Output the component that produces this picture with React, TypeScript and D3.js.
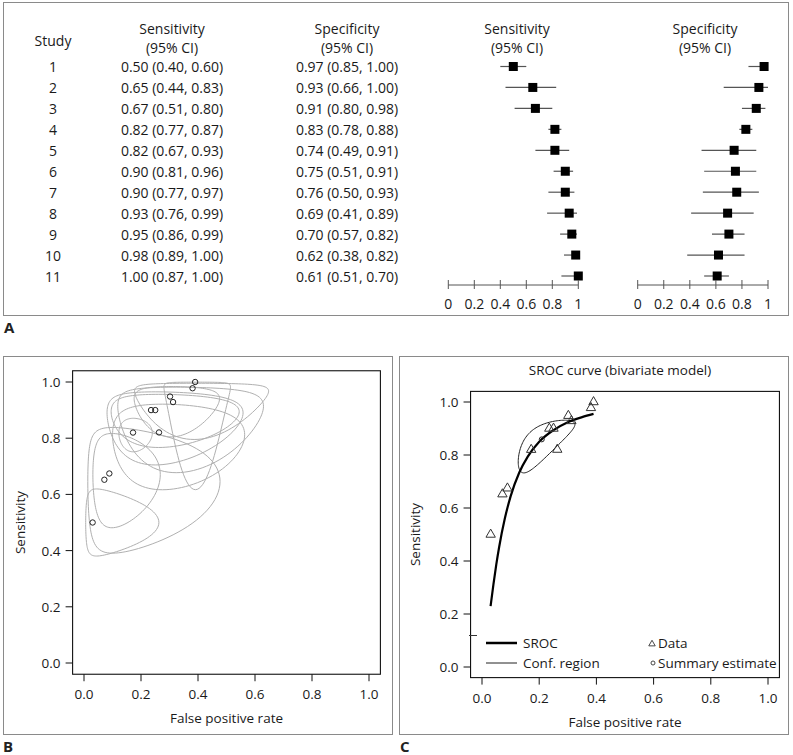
import React, { useEffect } from 'react';
import * as d3 from 'd3';

// ---------- Data (panel A table / forest) ----------
const studies = ['1', '2', '3', '4', '5', '6', '7', '8', '9', '10', '11'];
const sensEst = [0.50, 0.65, 0.67, 0.82, 0.82, 0.90, 0.90, 0.93, 0.95, 0.98, 1.00];
const sensLo = [0.40, 0.44, 0.51, 0.77, 0.67, 0.81, 0.77, 0.76, 0.86, 0.89, 0.87];
const sensHi = [0.60, 0.83, 0.80, 0.87, 0.93, 0.96, 0.97, 0.99, 0.99, 1.00, 1.00];
const specEst = [0.97, 0.93, 0.91, 0.83, 0.74, 0.75, 0.76, 0.69, 0.70, 0.62, 0.61];
const specLo = [0.85, 0.66, 0.80, 0.78, 0.49, 0.51, 0.50, 0.41, 0.57, 0.38, 0.51];
const specHi = [1.00, 1.00, 0.98, 0.88, 0.91, 0.91, 0.93, 0.89, 0.82, 0.82, 0.70];
const forestTicks = [0, 0.2, 0.4, 0.6, 0.8, 1];

// ---------- 2x2 counts consistent with the table (for panel B regions) ----------
const TP = [50, 15, 29, 205, 32, 63, 36, 26, 55, 44, 26];
const FN = [50, 8, 14, 45, 7, 7, 4, 2, 3, 1, 0];
const FP = [1, 1, 4, 43, 5, 5, 4, 5, 16, 8, 39];
const TN = [32, 13, 41, 207, 14, 15, 13, 11, 37, 13, 61];

// ---------- Panel C ----------
const srocFpr = [0.03, 0.04, 0.05, 0.06, 0.08, 0.10, 0.13, 0.16, 0.20, 0.25, 0.30, 0.35, 0.39];
const srocSens = [0.230, 0.312, 0.387, 0.453, 0.561, 0.644, 0.733, 0.794, 0.850, 0.894, 0.924, 0.943, 0.955];
const summaryFpr = 0.209;
const summarySens = 0.859;
// confidence region (logit scale): half-widths and correlation
const confHalfFpr = 0.6;
const confHalfSens = 0.8;
const confRho = 0.72;

const axisTicks = [0, 0.2, 0.4, 0.6, 0.8, 1.0];

const FONT = "'Open Sans', 'DejaVu Sans', sans-serif";
const logit = (p: number) => Math.log(p / (1 - p));
const expit = (x: number) => 1 / (1 + Math.exp(-x));

export default function App() {
  useEffect(() => {
    document.body.style.margin = '0';
  }, []);

  // Panel A scales
  const rowY = d3.scalePoint<string>().domain(studies).range([66.5, 276]);
  const sensX = d3.scaleLinear().domain([0, 1]).range([448.3, 578.3]);
  const specX = d3.scaleLinear().domain([0, 1]).range([637.7, 768]);
  const f2 = d3.format('.2f');
  const tickFmt = d3.format('~g');
  const axisY = 285;
  const sq = 9;

  // Panel B scales
  const xB = d3.scaleLinear().domain([0, 1]).range([84, 369]);
  const yB = d3.scaleLinear().domain([0, 1]).range([663, 382]);
  // Panel C scales
  const xC = d3.scaleLinear().domain([0, 1]).range([482, 768]);
  const yC = d3.scaleLinear().domain([0, 1]).range([667, 402]);
  const f1 = d3.format('.1f');

  const tChi = Math.sqrt(-2 * Math.log(0.05)); // sqrt(qchisq(.95, 2))
  const angles = d3.range(0, 121).map((i) => (i / 120) * 2 * Math.PI);

  const lineB = d3
    .line<[number, number]>()
    .x((d) => xB(d[0]))
    .y((d) => yB(d[1]))
    .curve(d3.curveLinearClosed);

  const ellipsesB = studies.map((_, i) => {
    const tp = TP[i] + 0.5, fn = FN[i] + 0.5, fp = FP[i] + 0.5, tn = TN[i] + 0.5;
    const cx = Math.log(fp / tn);
    const cy = Math.log(tp / fn);
    const sx = Math.sqrt(1 / fp + 1 / tn) * tChi;
    const sy = Math.sqrt(1 / tp + 1 / fn) * tChi;
    const pts: [number, number][] = angles.map((a) => [
      expit(cx + sx * Math.cos(a)),
      expit(cy + sy * Math.sin(a)),
    ]);
    return lineB(pts) as string;
  });

  const ptsFpr = studies.map((_, i) => FP[i] / (FP[i] + TN[i]));
  const ptsSens = studies.map((_, i) => TP[i] / (TP[i] + FN[i]));

  const srocPath = d3
    .line<[number, number]>()
    .x((d) => xC(d[0]))
    .y((d) => yC(d[1]))
    .curve(d3.curveMonotoneX)(srocFpr.map((f, i) => [f, srocSens[i]] as [number, number])) as string;

  const ccx = logit(summaryFpr);
  const ccy = logit(summarySens);
  const confPts: [number, number][] = angles.map((a) => [
    expit(ccx + confHalfFpr * Math.cos(a)),
    expit(ccy + confHalfSens * (confRho * Math.cos(a) + Math.sqrt(1 - confRho * confRho) * Math.sin(a))),
  ]);
  const confPath = d3
    .line<[number, number]>()
    .x((d) => xC(d[0]))
    .y((d) => yC(d[1]))
    .curve(d3.curveLinearClosed)(confPts) as string;

  const triangle = d3.symbol().type(d3.symbolTriangle).size(38)() as string;
  const triangleSmall = d3.symbol().type(d3.symbolTriangle).size(18)() as string;

  const frame = '#8a8a8a';

  const renderAxes = (
    xs: d3.ScaleLinear<number, number>,
    ys: d3.ScaleLinear<number, number>,
    ylabX: number,
  ) => {
    const left = xs(-0.04), right = xs(1.04), top = ys(1.04), bottom = ys(-0.04);
    return (
      <g>
        <rect x={left} y={top} width={right - left} height={bottom - top} fill="none" stroke="#111" strokeWidth={1.1} />
        {axisTicks.map((t) => (
          <g key={'x' + t}>
            <line x1={xs(t)} x2={xs(t)} y1={bottom} y2={bottom + 7} stroke="#111" />
            <text x={xs(t)} y={bottom + 20} textAnchor="middle" dominantBaseline="central" fontSize={13.5}>
              {f1(t)}
            </text>
          </g>
        ))}
        {axisTicks.map((t) => (
          <g key={'y' + t}>
            <line x1={left - 7} x2={left} y1={ys(t)} y2={ys(t)} stroke="#111" />
            <text x={left - 12} y={ys(t)} textAnchor="end" dominantBaseline="central" fontSize={13.5}>
              {f1(t)}
            </text>
          </g>
        ))}
        <text x={(left + right) / 2} y={bottom + 44} textAnchor="middle" dominantBaseline="central" fontSize={13.5}>
          False positive rate
        </text>
        <text
          x={ylabX}
          y={(top + bottom) / 2}
          textAnchor="middle"
          dominantBaseline="central"
          fontSize={13.5}
          transform={`rotate(-90 ${ylabX} ${(top + bottom) / 2})`}
        >
          Sensitivity
        </text>
      </g>
    );
  };

  return (
    <svg
      width={793}
      height={755}
      style={{ position: 'absolute', left: 0, top: 0, background: '#fff' }}
      fontFamily={FONT}
      fill="#1a1a1a"
    >
      <rect x={0} y={0} width={793} height={755} fill="#fff" />
      {/* ---------------- Panel A ---------------- */}
      <rect x={3.5} y={2.5} width={785} height={313} fill="none" stroke={frame} />
      <g fontSize={14}>
        <text x={53} y={40} textAnchor="middle" dominantBaseline="central">Study</text>
        <text x={172} y={28} textAnchor="middle" dominantBaseline="central">Sensitivity</text>
        <text x={172} y={47} textAnchor="middle" dominantBaseline="central">(95% CI)</text>
        <text x={347} y={28} textAnchor="middle" dominantBaseline="central">Specificity</text>
        <text x={347} y={47} textAnchor="middle" dominantBaseline="central">(95% CI)</text>
        <text x={517} y={28} textAnchor="middle" dominantBaseline="central">Sensitivity</text>
        <text x={517} y={47} textAnchor="middle" dominantBaseline="central">(95% CI)</text>
        <text x={705} y={28} textAnchor="middle" dominantBaseline="central">Specificity</text>
        <text x={705} y={47} textAnchor="middle" dominantBaseline="central">(95% CI)</text>
        {studies.map((s, i) => (
          <g key={s}>
            <text x={53} y={rowY(s)} textAnchor="middle" dominantBaseline="central">{s}</text>
            <text x={172} y={rowY(s)} textAnchor="middle" dominantBaseline="central">
              {`${f2(sensEst[i])} (${f2(sensLo[i])}, ${f2(sensHi[i])})`}
            </text>
            <text x={347} y={rowY(s)} textAnchor="middle" dominantBaseline="central">
              {`${f2(specEst[i])} (${f2(specLo[i])}, ${f2(specHi[i])})`}
            </text>
          </g>
        ))}
      </g>
      {/* forest plots */}
      {[
        { sc: sensX, est: sensEst, lo: sensLo, hi: sensHi, k: 's' },
        { sc: specX, est: specEst, lo: specLo, hi: specHi, k: 'p' },
      ].map(({ sc, est, lo, hi, k }) => (
        <g key={k}>
          {studies.map((s, i) => (
            <g key={s}>
              <line x1={sc(lo[i])} x2={sc(hi[i])} y1={rowY(s)} y2={rowY(s)} stroke="#555" strokeWidth={1.2} />
              <rect x={sc(est[i]) - sq / 2} y={(rowY(s) as number) - sq / 2} width={sq} height={sq} fill="#000" />
            </g>
          ))}
          <line x1={sc(0)} x2={sc(1)} y1={axisY} y2={axisY} stroke="#555" />
          {forestTicks.map((t) => (
            <g key={t}>
              <line x1={sc(t)} x2={sc(t)} y1={axisY - 5} y2={axisY + 4} stroke="#555" />
              <text x={sc(t)} y={axisY + 18} textAnchor="middle" dominantBaseline="central" fontSize={14}>
                {tickFmt(t)}
              </text>
            </g>
          ))}
        </g>
      ))}
      <text x={4} y={333} fontSize={15} fontWeight="bold" fill="#222">A</text>

      {/* ---------------- Panel B ---------------- */}
      <rect x={3.5} y={356.5} width={389} height={378} fill="none" stroke={frame} />
      <g>
        {ellipsesB.map((p, i) => (
          <path key={i} d={p} fill="none" stroke="#b0b0b0" strokeWidth={1} />
        ))}
        {studies.map((s, i) => (
          <circle key={s} cx={xB(ptsFpr[i])} cy={yB(ptsSens[i])} r={2.7} fill="none" stroke="#222" strokeWidth={1} />
        ))}
        {renderAxes(xB, yB, 20)}
      </g>
      <text x={3} y={752} fontSize={15} fontWeight="bold" fill="#222">B</text>

      {/* ---------------- Panel C ---------------- */}
      <rect x={399.5} y={356.5} width={389} height={378} fill="none" stroke={frame} />
      <text x={620} y={370} textAnchor="middle" dominantBaseline="central" fontSize={13.5}>
        SROC curve (bivariate model)
      </text>
      <g>
        <path d={confPath} fill="none" stroke="#222" strokeWidth={1} />
        <path d={srocPath} fill="none" stroke="#000" strokeWidth={2.2} />
        {studies.map((s, i) => (
          <path
            key={s}
            d={triangle}
            transform={`translate(${xC(ptsFpr[i])},${yC(ptsSens[i])})`}
            fill="none"
            stroke="#333"
            strokeWidth={1}
          />
        ))}
        <circle cx={xC(summaryFpr)} cy={yC(summarySens)} r={2.5} fill="none" stroke="#222" strokeWidth={1} />
        {renderAxes(xC, yC, 415)}
        {/* legend */}
        <line x1={469} x2={477} y1={635.5} y2={635.5} stroke="#333" />
        <line x1={486} x2={517} y1={643} y2={643} stroke="#000" strokeWidth={2.5} />
        <text x={523} y={643} dominantBaseline="central" fontSize={13.5}>SROC</text>
        <line x1={486} x2={517} y1={663} y2={663} stroke="#222" strokeWidth={1} />
        <text x={523} y={663} dominantBaseline="central" fontSize={13.5}>Conf. region</text>
        <path d={triangleSmall} transform="translate(652,644)" fill="none" stroke="#333" strokeWidth={0.9} />
        <text x={658} y={643} dominantBaseline="central" fontSize={13.5}>Data</text>
        <circle cx={653} cy={663} r={2} fill="none" stroke="#333" strokeWidth={0.9} />
        <text x={658} y={663} dominantBaseline="central" fontSize={13.5}>Summary estimate</text>
      </g>
      <text x={400} y={752} fontSize={15} fontWeight="bold" fill="#222">C</text>
    </svg>
  );
}
